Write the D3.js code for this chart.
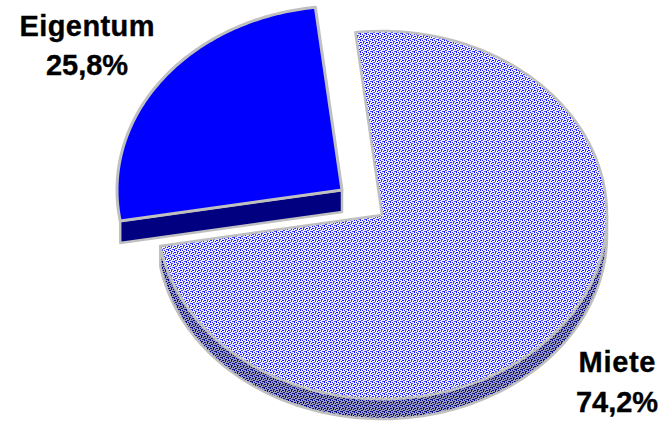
<!DOCTYPE html>
<html><head><meta charset="utf-8">
<script src="https://cdn.jsdelivr.net/npm/d3@7"></script>
<style>html,body{margin:0;background:#fff}svg{display:block}text{font-family:"Liberation Sans",Arial,sans-serif;font-weight:700;font-size:29px;fill:#000;text-anchor:middle;stroke:#000;stroke-width:.35px}</style>
</head><body><svg id="c" width="661" height="421"></svg>
<script>
const categories = ["Miete", "Eigentum"];
const values = [74.2, 25.8];
const percentLabels = ["74,2%", "25,8%"];
const cx = 382, cy = 215, rx = 225, ry = 184, depth = 20;
const startDeg = -6.8;
const explode = [[0, 0], [-40, -25]];
const labelPos = [[617, 372, 412, 77], [87, 36, 75, 135]];
const svg = d3.select("#c");
const defs = svg.append("defs");
function pat(id, bg, fg, fg2) {
  const p = defs.append("pattern").attr("id", id).attr("patternUnits", "userSpaceOnUse").attr("width", 6).attr("height", 6);
  p.append("rect").attr("width", 6).attr("height", 6).attr("fill", bg);
  [[0,0,2,1],[3,0,1,2],[5,1,1,1],[1,2,2,1],[0,3,1,2],[4,3,2,1],[2,4,1,1],[3,5,2,1]].forEach((r,i) =>
    p.append("rect").attr("x", r[0]).attr("y", r[1]).attr("width", r[2]).attr("height", r[3]).attr("fill", i % 2 ? fg2 : fg));
}
pat("topP", "#f0f0ff", "#1010ff", "#4040ff");
pat("wallP", "#a0a0b4", "#000090", "#101080");
const pie = d3.pie().sort(null).startAngle(startDeg * Math.PI / 180).endAngle((startDeg + 360) * Math.PI / 180);
const arcs = pie(values);
const px = a => rx * Math.sin(a), py = a => -ry * Math.cos(a);
function sector(d, dx, dy) {
  const pts = d3.range(0, 121).map(i => {
    const a = d3.interpolateNumber(d.startAngle, d.endAngle)(i / 120);
    return [cx + dx + px(a), cy + dy + py(a)];
  });
  return d3.line()([[cx + dx, cy + dy], ...pts]) + "Z";
}
function wall(a0, a1, dx, dy) {
  const t = d3.range(0, 121).map(i => d3.interpolateNumber(a0, a1)(i / 120));
  const top = t.map(a => [cx + dx + px(a), cy + dy + py(a)]);
  const bot = t.slice().reverse().map(a => [cx + dx + px(a), cy + dy + py(a) + depth]);
  return d3.line()([...top, ...bot]) + "Z";
}
const gray = "#c0c0c0";
const m = arcs[0];
svg.append("path").attr("d", wall(Math.PI / 2, m.endAngle, 0, 0))
  .attr("fill", "url(#wallP)").attr("stroke", gray).attr("stroke-width", 2.5).attr("stroke-linejoin", "round");
svg.append("path").attr("d", sector(m, 0, 0))
  .attr("fill", "url(#topP)").attr("stroke", gray).attr("stroke-width", 2.5).attr("stroke-linejoin", "round");
const e = arcs[1], [ex, ey] = explode[1];
const x0 = cx + ex, y0 = cy + ey, x1 = x0 + px(e.startAngle), y1 = y0 + py(e.startAngle);
svg.append("path").attr("d", d3.line()([[x1, y1], [x0, y0], [x0, y0 + depth + 2], [x1, y1 + depth + 2]]) + "Z")
  .attr("fill", "#000080").attr("stroke", gray).attr("stroke-width", 2.5).attr("stroke-linejoin", "round");
svg.append("path").attr("d", sector(e, ex, ey))
  .attr("fill", "#0000ff").attr("stroke", gray).attr("stroke-width", 3).attr("stroke-linejoin", "round");
categories.forEach((c, i) => {
  const [x, y1t, y2t, w] = labelPos[i];
  svg.append("text").attr("x", x).attr("y", y1t).attr("textLength", w).attr("lengthAdjust", "spacing").text(c);
  svg.append("text").attr("x", x).attr("y", y2t).text(percentLabels[i]);
});
</script></body></html>
